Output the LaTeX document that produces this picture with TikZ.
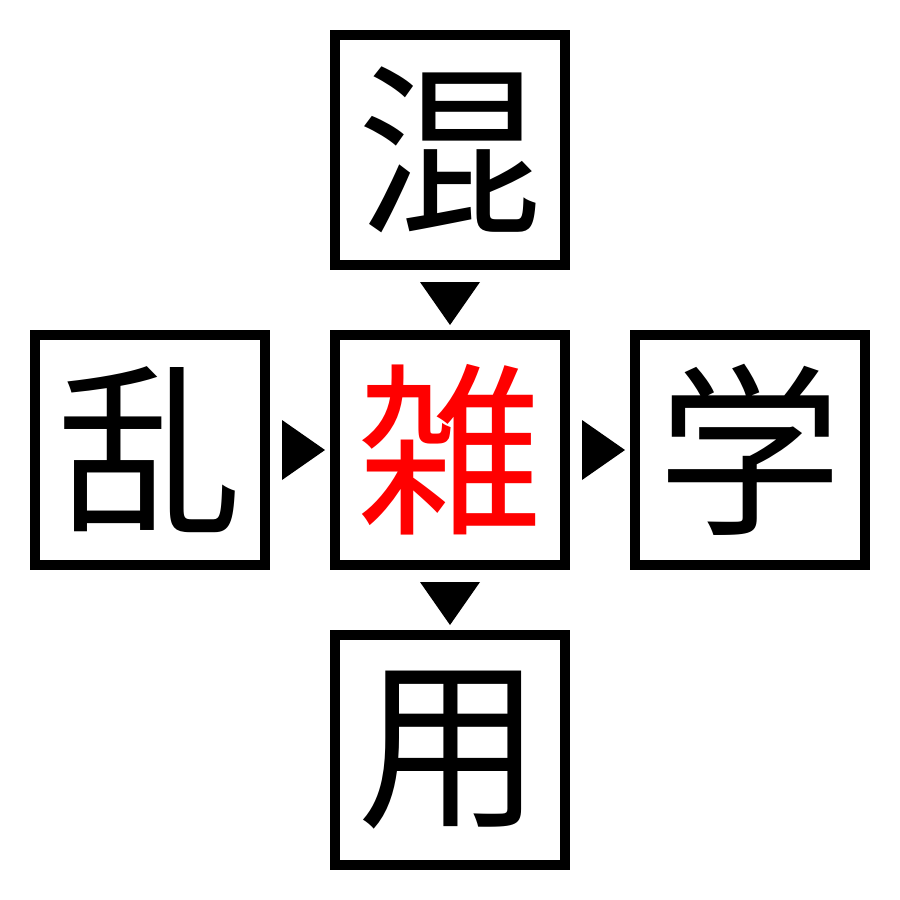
\documentclass[tikz,border=0pt]{standalone}
\usepackage{fontspec}
\newfontfamily\cjk{Noto Sans CJK JP}
\usetikzlibrary{calc}
\tikzset{
  kbox/.style={draw=black, line width=10pt, minimum width=230pt, minimum height=230pt, inner sep=0pt, font=\cjk\fontsize{185pt}{185pt}\selectfont},
  tri/.style={fill=black},
}
\begin{document}
\begin{tikzpicture}[x=1pt,y=-1pt]
\useasboundingbox (0,0) rectangle (900,900);
\node[kbox] (top) at (450,150) {混};
\node[kbox] (left) at (150,450) {乱};
\node[kbox, text=red] (mid) at (450,450) {雑};
\node[kbox] (right) at (750,450) {学};
\node[kbox] (bot) at (450,750) {用};
\fill[tri] ($(top.south)+(-30,12)$) -- ($(top.south)+(30,12)$) -- ($(mid.north)+(0,-5)$) -- cycle;
\fill[tri] ($(left.east)+(12,-30)$) -- ($(left.east)+(12,30)$) -- ($(mid.west)+(-5,0)$) -- cycle;
\fill[tri] ($(mid.east)+(12,-30)$) -- ($(mid.east)+(12,30)$) -- ($(right.west)+(-5,0)$) -- cycle;
\fill[tri] ($(mid.south)+(-30,12)$) -- ($(mid.south)+(30,12)$) -- ($(bot.north)+(0,-5)$) -- cycle;
\end{tikzpicture}
\end{document}
